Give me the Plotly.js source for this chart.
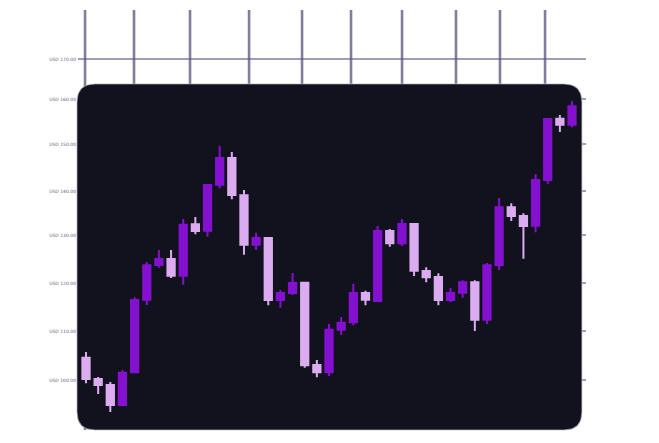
<!DOCTYPE html>
<html>
<head>
<meta charset="utf-8">
<script src="https://cdn.plot.ly/plotly-3.0.1.min.js"></script>
<style>
html,body{margin:0;padding:0;background:#ffffff;}
#chart{width:659px;height:443px;}
</style>
</head>
<body>
<div id="chart"></div>
<script>
// Session index (one candle per trading session)
const sessions = [0,1,2,3,4,5,6,7,8,9,10,11,12,13,14,15,16,17,18,19,20,
                  21,22,23,24,25,26,27,28,29,30,31,32,33,34,35,36,37,38,39,40];

const openPrices  = [104.06, 99.44, 98.13, 93.79,100.89,116.66,124.19,125.50,121.87,133.03,
                     131.64,141.63,147.43,139.33,128.60,130.06,116.59,118.11,120.35,102.48,
                     100.89,110.14,111.75,118.11,116.37,131.58,128.90,133.10,122.89,121.59,
                     116.59,118.18,120.44,112.31,124.19,136.72,134.83,132.73,142.65,155.96,
                     154.66];
const highPrices  = [105.30, 99.87, 98.78,101.39,117.18,124.84,127.45,127.45,134.18,134.62,
                     141.70,150.10,148.73,140.48,131.21,130.20,118.76,122.46,120.50,103.56,
                     111.38,112.90,120.13,118.61,132.66,132.01,134.18,133.20,123.69,122.39,
                     119.20,120.87,120.87,124.63,138.74,137.59,135.42,143.89,156.00,156.77,
                     159.81];
const lowPrices   = [ 98.50, 96.18, 92.27, 93.60,100.70,115.51,123.61,121.37,119.91,130.86,
                     130.34,140.85,138.46,126.43,127.45,115.44,114.92,117.68,101.89, 99.81,
                     100.09,108.99,111.10,115.44,116.22,128.17,128.32,121.80,120.44,115.44,
                     116.09,117.09,109.86,111.38,123.11,133.75,125.56,131.29,141.85,153.07,
                     154.10];
const closePrices = [ 99.44, 98.13, 93.79,100.80,116.59,124.13,125.50,121.87,132.94,131.58,
                     141.57,147.43,139.39,128.60,130.06,116.59,118.11,120.28,102.41,100.89,
                     110.14,111.66,118.11,116.66,131.58,128.90,133.10,122.95,121.52,116.59,
                     118.11,120.44,112.31,124.13,136.72,134.83,132.66,142.65,155.90,154.66,
                     158.66];

// Hand-drawn grid positions and labels
const xGridVals  = [-0.08, 3.95, 8.56, 13.42, 17.78, 21.81, 26.01, 30.45, 34.07, 37.78];
const yGridVals  = [99.22, 109.86, 120.28, 130.71, 140.26, 150.47, 160.24, 168.93];
const yTickText  = ['USD 100.00','USD 110.00','USD 120.00','USD 130.00','USD 140.00','USD 150.00','USD 160.00','USD 170.00'];

const upColor = '#8410d0';
const downColor = '#dcacf0';
const pencil = 'rgba(92,88,130,0.78)';

const trace = {
  type: 'candlestick',
  x: sessions,
  open: openPrices,
  high: highPrices,
  low: lowPrices,
  close: closePrices,
  increasing: {fillcolor: upColor, line: {color: upColor, width: 2}},
  decreasing: {fillcolor: downColor, line: {color: downColor, width: 2}},
  whiskerwidth: 0,
  hoverinfo: 'skip',
  showlegend: false
};

// Grid drawn as bottom-layer shapes so the dark panel covers it
const gridShapes = [];
xGridVals.forEach(v => gridShapes.push({
  type: 'line', xref: 'x', yref: 'paper', x0: v, x1: v, y0: 0, y1: 1,
  line: {color: pencil, width: 2.6}, layer: 'below'
}));
yGridVals.forEach(v => gridShapes.push({
  type: 'line', xref: 'paper', yref: 'y', x0: 0, x1: 1, y0: v, y1: v,
  line: {color: pencil, width: 1.3}, layer: 'below'
}));

// Rounded dark panel (paper coordinates)
const x0 = -0.002, x1 = 0.992, y0 = 0, y1 = 0.824, rx = 0.0354, ry = 0.0429;
const panelPath =
  `M ${x0+rx},${y0} L ${x1-rx},${y0} Q ${x1},${y0} ${x1},${y0+ry} ` +
  `L ${x1},${y1-ry} Q ${x1},${y1} ${x1-rx},${y1} ` +
  `L ${x0+rx},${y1} Q ${x0},${y1} ${x0},${y1-ry} ` +
  `L ${x0},${y0+ry} Q ${x0},${y0} ${x0+rx},${y0} Z`;

const layout = {
  width: 659,
  height: 443,
  margin: {l: 78, r: 73, t: 10, b: 13, pad: 0},
  paper_bgcolor: '#ffffff',
  plot_bgcolor: '#ffffff',
  showlegend: false,
  boxgap: 0.4,
  boxgroupgap: 0,
  xaxis: {
    type: 'linear',
    range: [-0.66, 41.15],
    showticklabels: false,
    ticks: '',
    showgrid: false,
    zeroline: false,
    showline: false,
    rangeslider: {visible: false},
    fixedrange: true
  },
  yaxis: {
    range: [88.36, 179.57],
    tickmode: 'array',
    tickvals: yGridVals,
    ticktext: yTickText,
    ticks: '',
    showgrid: false,
    zeroline: false,
    showline: false,
    tickfont: {family: 'DejaVu Sans', size: 4.5, color: '#5e5b78'},
    ticklabelstandoff: 1,
    fixedrange: true
  },
  shapes: gridShapes.concat([{
    type: 'path',
    xref: 'paper',
    yref: 'paper',
    path: panelPath,
    fillcolor: '#12111e',
    line: {color: 'rgba(190,188,200,0.7)', width: 1},
    layer: 'below'
  }])
};

Plotly.newPlot('chart', [trace], layout, {displayModeBar: false, staticPlot: true});
</script>
</body>
</html>
